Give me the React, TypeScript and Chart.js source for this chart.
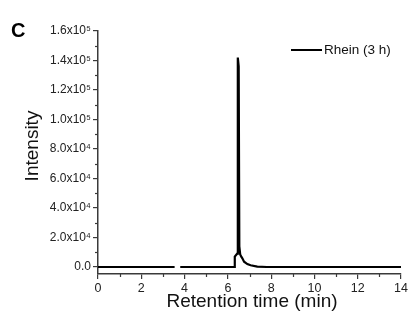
import React, { useEffect, useRef } from "react";
import { Chart, registerables } from "chart.js";

Chart.register(...registerables);

const retentionTime = [0, 3.54, 3.67, 3.8, 6.31, 6.32, 6.43, 6.46, 6.5, 6.53, 6.57, 6.62, 6.67, 6.75, 6.9, 7.05, 7.36, 7.8, 14];
const intensity = [0, 0, null, 0, 0, 7000, 9000, 142000, 136000, 14000, 8500, 7000, 5900, 3600, 2000, 1150, 200, 0, 0];

const seriesLabel = "Rhein (3 h)";
const panelLetter = "C";
const xTitle = "Retention time (min)";
const yTitle = "Intensity";
const yTickValues = [0, 20000, 40000, 60000, 80000, 100000, 120000, 140000, 160000];
const yTickLabels = ["0.0", "2.0x10\u2074", "4.0x10\u2074", "6.0x10\u2074", "8.0x10\u2074", "1.0x10\u2075", "1.2x10\u2075", "1.4x10\u2075", "1.6x10\u2075"];
const xTickValues = [0, 2, 4, 6, 8, 10, 12, 14];
const xTickLabels = ["0", "2", "4", "6", "8", "10", "12", "14"];

const FONT = "'Liberation Sans', Arial, sans-serif";
const AXIS = "#3a3a3a";

const extrasPlugin = {
  id: "extras",
  afterDraw(chart: any) {
    const { ctx, chartArea, scales } = chart;
    const x = scales.x;
    const y = scales.y;
    ctx.save();
    ctx.strokeStyle = AXIS;
    ctx.lineWidth = 1.2;
    for (let i = 0; i < yTickValues.length - 1; i++) {
      const v = (yTickValues[i] + yTickValues[i + 1]) / 2;
      const py = Math.round(y.getPixelForValue(v)) + 0.5;
      ctx.beginPath();
      ctx.moveTo(chartArea.left - 3, py);
      ctx.lineTo(chartArea.left, py);
      ctx.stroke();
    }
    for (let i = 0; i < xTickValues.length - 1; i++) {
      const v = (xTickValues[i] + xTickValues[i + 1]) / 2;
      const px = Math.round(x.getPixelForValue(v)) + 0.5;
      ctx.beginPath();
      ctx.moveTo(px, chartArea.bottom);
      ctx.lineTo(px, chartArea.bottom + 3);
      ctx.stroke();
    }
    ctx.fillStyle = "#000";
    ctx.font = `bold 20px ${FONT}`;
    ctx.textAlign = "left";
    ctx.textBaseline = "alphabetic";
    ctx.fillText(panelLetter, 11, 37);
    ctx.font = `19px ${FONT}`;
    ctx.textAlign = "center";
    ctx.textBaseline = "middle";
    ctx.fillStyle = "#111";
    ctx.fillText(xTitle, 252, 302);
    ctx.save();
    ctx.translate(33, 146);
    ctx.rotate(-Math.PI / 2);
    ctx.fillText(yTitle, 0, 0);
    ctx.restore();
    ctx.strokeStyle = "#000";
    ctx.lineWidth = 2;
    ctx.beginPath();
    ctx.moveTo(291, 50);
    ctx.lineTo(322, 50);
    ctx.stroke();
    ctx.font = `13.5px ${FONT}`;
    ctx.textAlign = "left";
    ctx.textBaseline = "middle";
    ctx.fillStyle = "#111";
    ctx.fillText(seriesLabel, 324, 50);
    ctx.restore();
  },
};

export default function App() {
  const ref = useRef<HTMLCanvasElement>(null);
  useEffect(() => {
    if (!ref.current) return;
    const points = retentionTime.map((t, i) => ({ x: t, y: intensity[i] }));
    const chart = new Chart(ref.current, {
      type: "line",
      data: {
        datasets: [
          {
            label: seriesLabel,
            data: points as any,
            borderColor: "#000",
            borderWidth: 2.2,
            pointRadius: 0,
            tension: 0,
            spanGaps: false,
          },
        ],
      },
      options: {
        animation: false,
        responsive: false,
        maintainAspectRatio: false,
        layout: { padding: { left: 0, top: 31, right: 9, bottom: 0 } },
        plugins: { legend: { display: false }, tooltip: { enabled: false }, title: { display: false } },
        scales: {
          x: {
            type: "linear",
            min: 0,
            max: 14,
            afterFit: (s: any) => {
              s.height = 48;
            },
            afterBuildTicks: (s: any) => {
              s.ticks = xTickValues.map((v) => ({ value: v }));
            },
            ticks: {
              autoSkip: false,
              color: "#222",
              font: { family: FONT, size: 12.5 },
              padding: 2,
              maxRotation: 0,
              callback: (v: any) => {
                const i = xTickValues.indexOf(Number(v));
                return i >= 0 ? xTickLabels[i] : "";
              },
            },
            grid: { drawOnChartArea: false, drawTicks: true, tickLength: 5, color: AXIS, lineWidth: 1.2 },
            border: { display: true, color: AXIS, width: 1.5 },
          },
          y: {
            type: "linear",
            min: -4750,
            max: 160000,
            afterFit: (s: any) => {
              s.width = 98;
            },
            afterBuildTicks: (s: any) => {
              s.ticks = yTickValues.map((v) => ({ value: v }));
            },
            ticks: {
              autoSkip: false,
              color: "#222",
              font: { family: FONT, size: 12 },
              padding: 2,
              callback: (v: any) => {
                const i = yTickValues.indexOf(Number(v));
                return i >= 0 ? yTickLabels[i] : "";
              },
            },
            grid: { drawOnChartArea: false, drawTicks: true, tickLength: 5, color: AXIS, lineWidth: 1.2 },
            border: { display: true, color: AXIS, width: 1.5 },
          },
        },
      },
      plugins: [extrasPlugin],
    });
    return () => chart.destroy();
  }, []);
  return (
    <div style={{ position: "fixed", left: 0, top: 0, width: 410, height: 322, background: "#fff" }}>
      <canvas ref={ref} width={410} height={322} />
    </div>
  );
}
